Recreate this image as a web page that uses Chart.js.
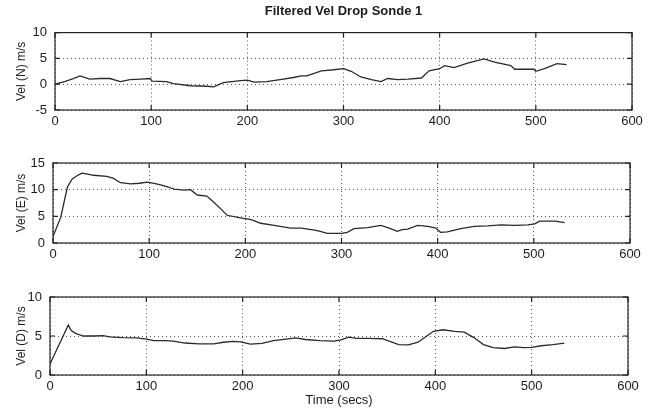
<!DOCTYPE html>
<html lang="en">
<head>
  <meta charset="UTF-8">
  <title>Filtered Vel Drop Sonde 1</title>
  <script src="https://cdn.jsdelivr.net/npm/chart.js"></script>
  <style>
    body { margin: 0; background: #fff; }
    #wrap { position: relative; width: 648px; height: 408px; }
    canvas { position: absolute; left: 0; }
  </style>
</head>
<body>
  <div id="wrap">
    <canvas id="chartN" width="648" height="135" style="top:0px"></canvas>
    <canvas id="chartE" width="648" height="128" style="top:135px"></canvas>
    <canvas id="chartD" width="648" height="145" style="top:263px"></canvas>
  </div>
  <script>
    // values (time in secs, velocity in m/s)
    const nTime = [0,10,19,26,36,47,57,68,78,89,99,101,116,123,141,158,165,175,193,200,207,220,234,248,256,262,277,290,300,308,318,329,339,346,356,367,381,389,400,405,415,429,446,457,474,478,498,500,509,522,532];
    const nVel = [0.0,0.5,1.1,1.6,1.0,1.1,1.1,0.5,0.9,1.0,1.1,0.6,0.5,0.1,-0.3,-0.4,-0.5,0.3,0.7,0.8,0.4,0.5,0.9,1.3,1.6,1.6,2.6,2.8,3.0,2.5,1.4,0.9,0.5,1.1,0.9,1.0,1.2,2.6,3.0,3.6,3.2,4.1,4.9,4.3,3.6,2.9,2.9,2.5,3.0,4.0,3.8];

    const eTime = [0,8,15,20,25,30,36,42,56,63,70,81,90,98,105,112,120,126,136,143,150,160,167,175,181,195,206,216,230,247,258,265,272,278,285,293,300,306,313,327,341,351,358,363,369,379,390,398,403,410,424,438,452,466,480,494,501,506,522,532];
    const eVel = [1.2,4.8,10.5,12.0,12.6,13.1,12.9,12.7,12.5,12.1,11.3,11.1,11.2,11.4,11.2,10.9,10.5,10.1,9.9,10.0,9.0,8.8,7.7,6.3,5.2,4.7,4.4,3.7,3.3,2.8,2.8,2.6,2.4,2.2,1.8,1.8,1.8,2.0,2.7,2.9,3.3,2.7,2.2,2.5,2.6,3.3,3.1,2.8,2.0,2.1,2.7,3.1,3.2,3.4,3.3,3.4,3.6,4.1,4.1,3.8];

    const dTime = [0,19,22,27,35,45,55,62,75,90,100,108,120,128,140,155,170,180,190,198,208,220,232,245,255,265,280,295,302,310,318,330,345,352,362,372,382,390,398,408,420,430,440,450,460,472,482,492,500,510,522,534];
    const dVel = [1.4,6.4,5.7,5.3,5.0,5.0,5.05,4.9,4.8,4.75,4.6,4.4,4.4,4.35,4.1,4.0,4.0,4.2,4.3,4.25,3.95,4.05,4.4,4.6,4.75,4.55,4.4,4.35,4.5,4.85,4.7,4.7,4.65,4.35,3.9,3.85,4.2,4.9,5.6,5.8,5.6,5.5,4.8,3.9,3.5,3.4,3.6,3.5,3.55,3.75,3.9,4.1];

    const timeRange = [0, 600];
    const titleText = 'Filtered Vel Drop Sonde 1';
    const xLabel = 'Time (secs)';

    Chart.defaults.font.family = '"Liberation Sans", Arial, Helvetica, sans-serif';
    Chart.defaults.font.size = 13;
    Chart.defaults.color = '#1c1c1c';

    // solid box round the axes + matlab style inward ticks
    const frame = {
      id: 'frame',
      afterDatasetsDraw(chart) {
        const {ctx, chartArea: a, scales: {x, y}} = chart;
        ctx.save();
        ctx.strokeStyle = '#222';
        ctx.lineWidth = 1.2;
        ctx.strokeRect(a.left, a.top, a.right - a.left, a.bottom - a.top);
        ctx.beginPath();
        x.ticks.forEach(t => {
          const px = x.getPixelForValue(t.value);
          ctx.moveTo(px, a.bottom); ctx.lineTo(px, a.bottom - 5);
          ctx.moveTo(px, a.top); ctx.lineTo(px, a.top + 5);
        });
        y.ticks.forEach(t => {
          const py = y.getPixelForValue(t.value);
          ctx.moveTo(a.left, py); ctx.lineTo(a.left + 5, py);
          ctx.moveTo(a.right, py); ctx.lineTo(a.right - 5, py);
        });
        ctx.stroke();
        ctx.restore();
      }
    };

    function makeChart(id, time, vel, cfg) {
      const pts = time.map((t, i) => ({x: t, y: vel[i]}));
      return new Chart(document.getElementById(id), {
        type: 'line',
        data: {
          datasets: [{
            data: pts,
            borderColor: '#2a2a2a',
            borderWidth: 1.3,
            pointRadius: 0,
            tension: 0
          }]
        },
        options: {
          responsive: false,
          animation: false,
          layout: { padding: { top: cfg.top, right: cfg.right, left: 0, bottom: 0 } },
          plugins: {
            legend: { display: false },
            tooltip: { enabled: false },
            title: {
              display: !!cfg.title,
              text: cfg.title || '',
              fullSize: false,
              font: { size: 13, weight: 'bold' },
              padding: { top: 3, bottom: 13 }
            }
          },
          scales: {
            x: {
              type: 'linear',
              min: timeRange[0],
              max: timeRange[1],
              ticks: { stepSize: 100, padding: 4, maxRotation: 0 },
              grid: { color: '#555', drawTicks: false },
              border: { display: false, dash: [1, 3] },
              title: { display: !!cfg.xTitle, text: cfg.xTitle || '', font: { size: 13 }, padding: 0 },
              afterFit: s => { s.height = cfg.xh; }
            },
            y: {
              min: cfg.ymin,
              max: cfg.ymax,
              ticks: { stepSize: 5, padding: 8 },
              grid: { color: '#555', drawTicks: false },
              border: { display: false, dash: [1, 3] },
              title: { display: true, text: cfg.yTitle, font: { size: 12 }, padding: { top: 14, bottom: 0 } },
              afterFit: s => { s.width = cfg.left; }
            }
          }
        },
        plugins: [frame]
      });
    }

    makeChart('chartN', nTime, nVel, {
      title: titleText, yTitle: 'Vel (N) m/s', ymin: -5, ymax: 10,
      top: 1, right: 16, left: 55, xh: 25
    });
    makeChart('chartE', eTime, eVel, {
      yTitle: 'Vel (E) m/s', ymin: 0, ymax: 15,
      top: 28, right: 18, left: 53, xh: 20
    });
    makeChart('chartD', dTime, dVel, {
      yTitle: 'Vel (D) m/s', ymin: 0, ymax: 10, xTitle: xLabel,
      top: 34, right: 20, left: 50, xh: 33
    });
  </script>
</body>
</html>
